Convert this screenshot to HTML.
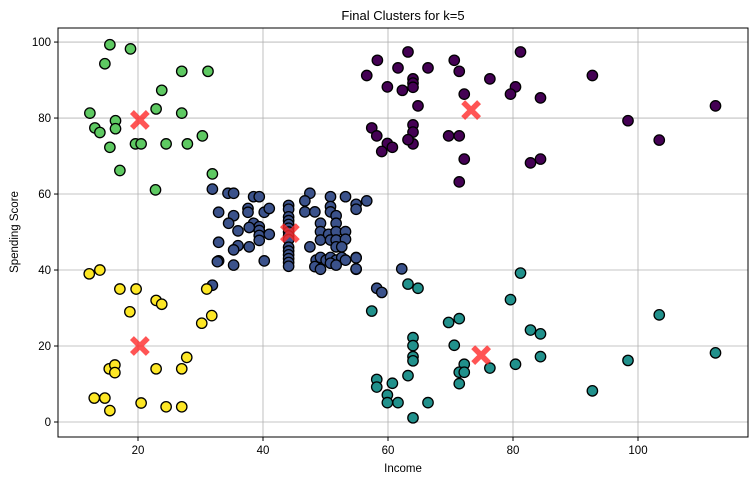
<!DOCTYPE html>
<html><head><meta charset="utf-8"><style>
html,body{margin:0;padding:0;background:#fff;}
svg{display:block;font-family:"Liberation Sans","DejaVu Sans",sans-serif;}
</style></head><body>
<svg id="chart" width="755" height="484" viewBox="0 0 755 484" xmlns="http://www.w3.org/2000/svg">
<rect x="0" y="0" width="755" height="484" fill="#fff"/>
<text x="403" y="20" text-anchor="middle" font-size="13" fill="#000">Final Clusters for k=5</text>
<g id="grid"></g>
<g id="points"></g>
<g id="centroids"></g>
<rect x="58" y="28" width="690" height="409" fill="none" stroke="#000" stroke-width="1"/>
<g id="ticks"></g>
<text x="403" y="472" text-anchor="middle" font-size="11.5" fill="#000">Income</text>
<text x="18" y="232" text-anchor="middle" font-size="11.5" fill="#000" transform="rotate(-90 18 232)">Spending Score</text>
</svg>
<script>
const xTicks = [20, 40, 60, 80, 100];
const yTicks = [0, 20, 40, 60, 80, 100];
const clusterColors = ["#440154", "#3b528b", "#21918c", "#5ec962", "#fde725"];
const purpleX = [56.6,58.3,59.9,61.6,63.2,62.3,64,64,64,66.4,64.8,70.6,71.4,72.2,76.3,80.4,79.6,81.2,84.4,92.7,112.4,57.4,58.2,59.9,60.7,59,64,64,64,63.2,69.7,71.4,72.2,71.4,82.8,84.4,98.4,103.4];
const purpleY = [91.2,95.2,88.2,93.2,97.4,87.3,90.3,89.2,88.1,93.2,83.2,95.2,92.3,86.3,90.3,88.2,86.3,97.4,85.3,91.2,83.2,77.4,75.3,73.3,72.3,71.2,78.2,76.3,73.2,74.3,75.3,75.3,69.2,63.2,68.2,69.2,79.3,74.2];
const blueX = [31.9,34.4,35.3,38.5,39.4,32.9,35.3,34.5,37.6,37.6,38.5,39.4,39.4,39.4,39.4,40.2,41,36,37.8,41,32.9,36,35.3,37.8,40.2,32.9,35.3,
 44.1,44.1,44.1,44.1,44.1,44.1,44.1,44.1,44.1,44.1,44.1,44.1,44.1,44.1,44.1,
 47.5,46.7,46.7,48.3,50.8,50.8,50.8,53.2,54.9,54.9,56.6,51.7,51.7,49.2,49.2,49.2,50.5,50.8,51.7,51.7,51.7,53.2,53.2,52.6,47.5,
 48.5,49.2,50.1,50.8,51.7,52.6,53.2,54.9,48.3,49.2,50.8,51.7,54.9,54.9,54.9,62.2,58.2,59,31.9,32.7];
const blueY = [61.3,60.2,60.2,59.3,59.3,55.2,54.3,52.3,56.2,55.2,52.3,51.4,50.4,49.1,47.8,55.2,56.2,50.3,51.2,49.4,47.3,46.4,45.3,46.1,42.4,42.4,41.3,
 57,56,54,53,52,51,50,49,48,46,45,44,43,42,41,
 60.2,58.2,55.3,55.3,59.3,56.7,55.3,59.3,57.3,56,58.2,54.3,52.3,52.3,50.1,47.9,49.4,47.9,50.1,47.9,46.1,50.1,48.1,46.1,46.1,
 42.6,43.3,42.6,43.3,42.6,43.3,42.6,43.3,40.9,40.2,41.8,41.3,40.2,43.2,40.3,40.3,35.2,34.1,36,42.2];
const tealX = [63.2,64.8,57.4,81.2,79.6,69.7,71.4,82.8,84.4,103.4,64,64,70.6,64,64,84.4,112.4,98.4,72.2,71.4,72.2,71.4,76.3,80.4,63.2,58.2,58.2,60.7,59.9,59.9,61.6,66.4,64,92.7];
const tealY = [36.3,35.2,29.2,39.2,32.2,26.2,27.2,24.2,23.2,28.2,22.2,20.1,20.2,17.2,16.1,17.2,18.2,16.2,15.2,13.1,13.1,10.1,14.2,15.2,12.2,11.2,9.2,10.2,7.1,5.1,5.1,5.1,1.1,8.2];
const greenX = [15.5,18.8,14.7,27,31.2,23.8,12.3,22.9,27,16.4,16.4,13.1,13.9,30.3,15.5,19.6,20.5,24.5,27.9,17.1,31.9,22.8];
const greenY = [99.3,98.2,94.3,92.3,92.3,87.3,81.3,82.4,81.3,79.3,77.2,77.4,76.2,75.3,72.3,73.2,73.2,73.2,73.2,66.2,65.3,61.1];
const yellowX = [12.2,13.9,17.1,19.7,22.9,23.8,18.7,31,30.2,31.8,27.8,15.4,16.3,16.3,22.9,27,13,14.7,15.5,20.5,24.5,27];
const yellowY = [39,40,35,35,32,31,29,35,26,28,17,14,15,13,14,14,6.3,6.3,3,5,4,4];
const centroidX = [73.3, 44.3, 74.9, 20.3, 20.3];
const centroidY = [82.1, 49.7, 17.6, 79.5, 20];

const NS = "http://www.w3.org/2000/svg";
const L = 58, R = 748, T = 28, B = 437;
const xMin = 7.2, xMax = 117.6, yMin = -3.95, yMax = 103.7;
function sx(v){ return L + (v - xMin) / (xMax - xMin) * (R - L); }
function sy(v){ return B - (v - yMin) / (yMax - yMin) * (B - T); }

const grid = document.getElementById('grid');
const ticks = document.getElementById('ticks');
xTicks.forEach(function(t){
  const g = document.createElementNS(NS,'line');
  g.setAttribute('x1', sx(t)); g.setAttribute('x2', sx(t));
  g.setAttribute('y1', T); g.setAttribute('y2', B);
  g.setAttribute('stroke', '#b0b0b0'); g.setAttribute('stroke-width', '0.8');
  
  
  grid.appendChild(g);
  const tk = document.createElementNS(NS,'line');
  tk.setAttribute('x1', sx(t)); tk.setAttribute('x2', sx(t));
  tk.setAttribute('y1', B); tk.setAttribute('y2', B + 4);
  tk.setAttribute('stroke', '#000');
  
  
  ticks.appendChild(tk);
  const tx = document.createElementNS(NS,'text');
  tx.setAttribute('x', sx(t)); tx.setAttribute('y', B + 17);
  tx.setAttribute('text-anchor', 'middle'); tx.setAttribute('font-size', '11.5');
  tx.textContent = t;
  
  
  ticks.appendChild(tx);
});
yTicks.forEach(function(t){
  const g = document.createElementNS(NS,'line');
  g.setAttribute('x1', L); g.setAttribute('x2', R);
  g.setAttribute('y1', sy(t)); g.setAttribute('y2', sy(t));
  g.setAttribute('stroke', '#b0b0b0'); g.setAttribute('stroke-width', '0.8');
  
  
  grid.appendChild(g);
  const tk = document.createElementNS(NS,'line');
  tk.setAttribute('x1', L - 4); tk.setAttribute('x2', L);
  tk.setAttribute('y1', sy(t)); tk.setAttribute('y2', sy(t));
  tk.setAttribute('stroke', '#000');
  
  
  ticks.appendChild(tk);
  const tx = document.createElementNS(NS,'text');
  tx.setAttribute('x', L - 7); tx.setAttribute('y', sy(t) + 4);
  tx.setAttribute('text-anchor', 'end'); tx.setAttribute('font-size', '11.5');
  tx.textContent = t;
  
  
  ticks.appendChild(tx);
});

const pts = document.getElementById('points');
const series = [[purpleX,purpleY],[blueX,blueY],[tealX,tealY],[greenX,greenY],[yellowX,yellowY]];
series.forEach(function(s, ci){
  for (let i = 0; i < s[0].length; i++){
    const c = document.createElementNS(NS,'circle');
    c.setAttribute('cx', sx(s[0][i])); c.setAttribute('cy', sy(s[1][i]));
    c.setAttribute('r', '5.2');
    c.setAttribute('fill', clusterColors[ci]);
    c.setAttribute('stroke', '#000'); c.setAttribute('stroke-width', '1.3');
    
    
    pts.appendChild(c);
  }
});

const cg = document.getElementById('centroids');
for (let i = 0; i < centroidX.length; i++){
  const cx = sx(centroidX[i]), cy = sy(centroidY[i]), d = 6;
  const p = document.createElementNS(NS,'path');
  p.setAttribute('d', 'M'+(cx-d)+' '+(cy-d)+'L'+(cx+d)+' '+(cy+d)+'M'+(cx+d)+' '+(cy-d)+'L'+(cx-d)+' '+(cy+d));
  p.setAttribute('stroke', '#ff2a2a'); p.setAttribute('stroke-width', '5.5');
  p.setAttribute('stroke-linecap', 'square'); p.setAttribute('opacity', '0.8');
  
  
  cg.appendChild(p);
}
</script>
</body></html>
